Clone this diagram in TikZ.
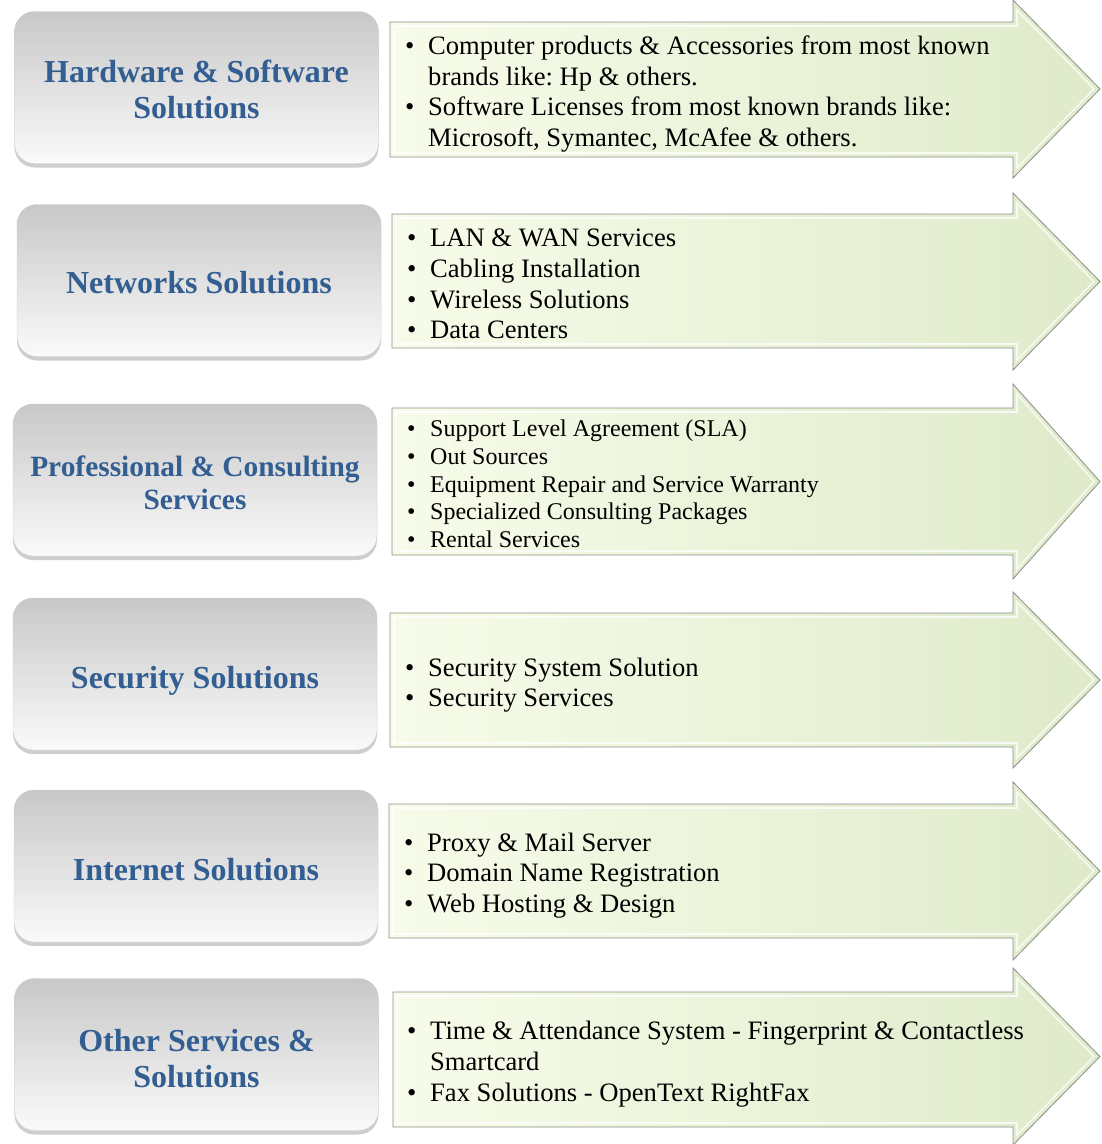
\documentclass[tikz,border=0pt]{standalone}
\usepackage{fontspec}
\setmainfont{Liberation Serif}
\usepackage{tikz}
\usetikzlibrary{shadows}

\definecolor{titleblue}{RGB}{50,94,146}
\definecolor{boxtop}{RGB}{200,200,200}
\definecolor{boxbot}{RGB}{250,250,250}
\definecolor{arrowleft}{RGB}{247,252,234}
\definecolor{arrowright}{RGB}{223,234,202}
\definecolor{arrowline}{RGB}{140,142,136}

\newcommand\svcitem{\makebox[23pt][l]{\textbullet}}
\newcommand\svcmore{\hspace*{23pt}}

\tikzset{
  svcbox/.style={rectangle, rounded corners=20pt, draw=gray!40, top color=boxtop, bottom color=boxbot,
    minimum width=364pt, minimum height=152pt,
    drop shadow={shadow xshift=0pt, shadow yshift=-4pt, opacity=0.35, fill=black!55}},
  svctitle/.style={align=center, text=titleblue, inner sep=0pt,
    font=\fontsize{32}{36}\selectfont\bfseries},
  svclist/.style={anchor=west, align=left, inner sep=0pt,
    font=\fontsize{26.6}{30.7}\selectfont},
  svcarrow/.style={draw=arrowline, line width=0.8pt, left color=arrowleft, right color=arrowright},
  svcbevel/.style={draw=white, opacity=0.75, line width=1.6pt}
}

\begin{document}
\frenchspacing
\begin{tikzpicture}[x=1pt,y=-1pt]
\useasboundingbox (0,0) rectangle (1102,1144);

% arrows
\foreach \xl/\yh/\yt/\yb/\yB in {390/0/22/157/178, 392/193/214/348/370, 392/384/408/555/579,
    390/592/613/747/768, 389/782/804/938/960, 393/968/992/1127/1145}{
  \shade[svcarrow] (\xl,\yt) -- (1013,\yt) -- (1013,\yh) -- (1100,{(\yh+\yB)/2}) -- (1013,\yB) -- (1013,\yb) -- (\xl,\yb) -- cycle;
  \draw[svcbevel] (\xl+4,\yt+4) -- (1017,\yt+4) -- (1017,\yh+10) -- (1094,{(\yh+\yB)/2}) -- (1017,\yB-10) -- (1017,\yb-4) -- (\xl+4,\yb-4) -- cycle;
}

% boxes
\node[svcbox] (hwbox) at (196.5,87.5) {};
\node[svcbox] (netbox) at (199,280.5) {};
\node[svcbox] (probox) at (195,480) {};
\node[svcbox] (secbox) at (195,674) {};
\node[svcbox] (inetbox) at (196,866) {};
\node[svcbox] (othbox) at (196.5,1054.5) {};

% titles
\node[svctitle] (hwtitle) at ([yshift=-2pt]hwbox.center) {Hardware \& Software\\Solutions};
\node[svctitle] (nettitle) at ([yshift=-2pt]netbox.center) {Networks Solutions};
\node[svctitle, font=\fontsize{29.4}{33}\selectfont\bfseries] (protitle) at ([yshift=-3pt]probox.center) {Professional \& Consulting\\Services};
\node[svctitle] (sectitle) at ([yshift=-7pt]secbox.center) {Security Solutions};
\node[svctitle] (inettitle) at ([yshift=-3.5pt]inetbox.center) {Internet Solutions};
\node[svctitle] (othtitle) at ([yshift=-4pt]othbox.center) {Other Services \&\\Solutions};

% lists
\node[svclist] (hwlist) at (405,94) {\svcitem Computer products \& Accessories from most known\\
  \svcmore brands like: Hp \& others.\\
  \svcitem Software Licenses from most known brands like:\\
  \svcmore Microsoft, Symantec, McAfee \& others.};
\node[svclist] (netlist) at (407,284) {\svcitem LAN \& WAN Services\\\svcitem Cabling Installation\\
  \svcitem Wireless Solutions\\\svcitem Data Centers};
\node[svclist, font=\fontsize{24}{27.7}\selectfont] (prolist) at (407,484) {\svcitem Support Level Agreement (SLA)\\
  \svcitem Out Sources\\\svcitem Equipment Repair and Service Warranty\\
  \svcitem Specialized Consulting Packages\\\svcitem Rental Services};
\node[svclist] (seclist) at (405,685) {\svcitem Security System Solution\\\svcitem Security Services};
\node[svclist] (inetlist) at (404,875.5) {\svcitem Proxy \& Mail Server\\\svcitem Domain Name Registration\\
  \svcitem Web Hosting \& Design};
\node[svclist] (othlist) at (407,1064) {\svcitem Time \& Attendance System - Fingerprint \& Contactless\\
  \svcmore Smartcard\\\svcitem Fax Solutions - OpenText RightFax};

\end{tikzpicture}
\end{document}
